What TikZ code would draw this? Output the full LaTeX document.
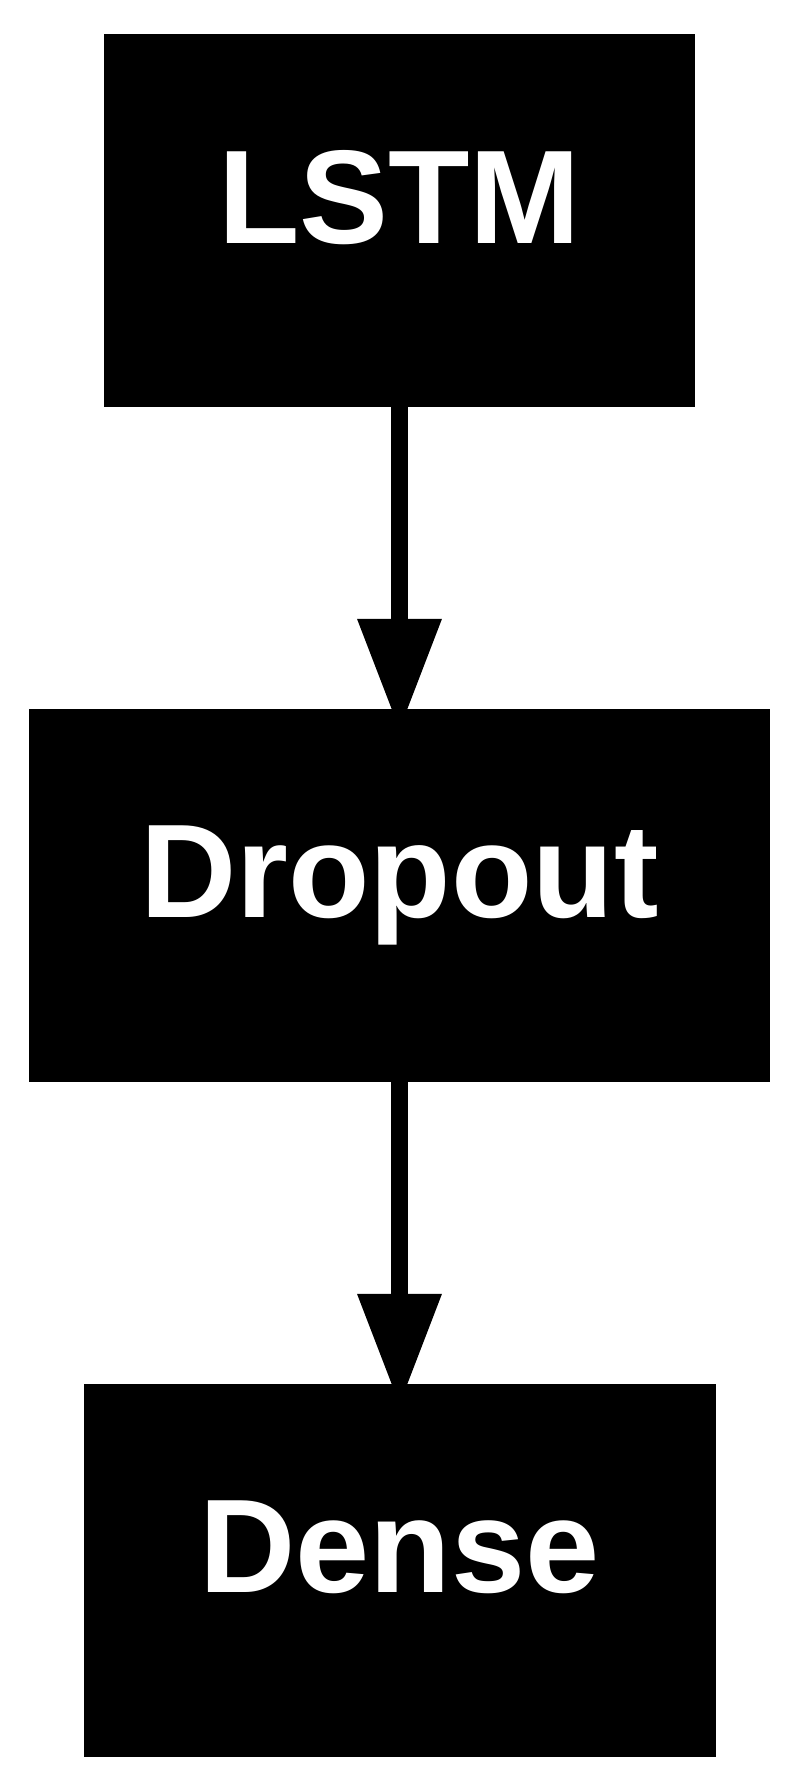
\documentclass[tikz,border=0pt]{standalone}
\usepackage{fontspec}
\setmainfont{Liberation Sans}
\usetikzlibrary{arrows.meta, positioning, backgrounds}

\begin{document}
\begin{tikzpicture}[x=0.75pt, y=-0.75pt,
  layer/.style={fill=black, text=white, inner sep=0pt,
    font=\bfseries\fontsize{100}{116}\selectfont,
    text height=72pt, text depth=38pt, minimum height=279.75pt},
  flow/.style={line width=12.5pt, -{Triangle[width=60pt, length=84pt]}}]
\useasboundingbox (0,0) rectangle (800,1792);
% layers
\node[layer, minimum width=443.25pt] (lstm) at (399.5,220.5) {LSTM};
\node[layer, minimum width=555.75pt] (drop) at (399.5,895) {Dropout};
\node[layer, minimum width=474pt] (dense) at (399.5,1570) {Dense};
% edges (tips hidden under the boxes)
\begin{scope}[on background layer]
\draw[flow] (lstm.south) -- ([yshift=-17pt]drop.north);
\draw[flow] (drop.south) -- ([yshift=-17pt]dense.north);
\end{scope}
\end{tikzpicture}
\end{document}
